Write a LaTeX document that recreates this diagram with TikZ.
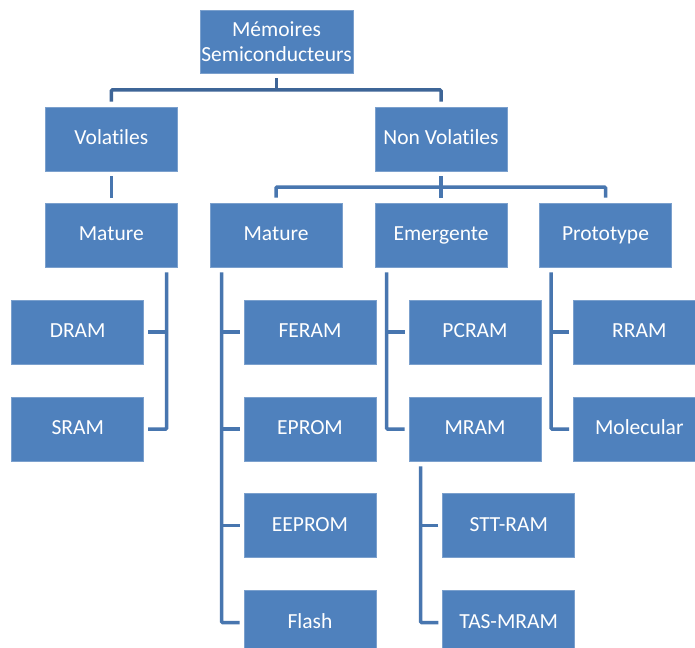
\documentclass[tikz,border=0pt]{standalone}
\usepackage{fontspec}
\setmainfont{Carlito}[Ligatures=CommonOff]
\definecolor{boxblue}{HTML}{4F81BD}
\definecolor{linkblue}{HTML}{4876AF}
\definecolor{topblue}{HTML}{3E6597}
\tikzset{
  membox/.style={rectangle, fill=boxblue, draw=boxblue!75!white, line width=0.6pt,
    minimum width=132pt, minimum height=64pt, inner sep=0pt, text=white,
    font=\fontsize{21.5}{25}\selectfont, text height=15.4pt, text depth=4pt},
  link/.style={draw=linkblue, line width=3.5pt},
  toplink/.style={draw=topblue, line width=3.5pt}
}
\begin{document}
\begin{tikzpicture}[x=1pt,y=-1pt]
    \clip (0,0) rectangle (695,647);
    \fill[white] (0,0) rectangle (695,647);
    % boxes
    \node[membox,minimum width=153pt,minimum height=63pt,align=center,text height=,text depth=] (root) at (276.5,41.5) {M\'emoires\\Semiconducteurs};
    \node[membox] (vol) at (111.3,139) {Volatiles};
    \node[membox] (nv) at (441,139) {Non Volatiles};
    \node[membox] (matv) at (111.3,235) {Mature};
    \node[membox] (matn) at (276,235) {Mature};
    \node[membox] (emer) at (441,235) {Emergente};
    \node[membox] (proto) at (605.5,235) {Prototype};
    \node[membox] (dram) at (77.7,332) {DRAM};
    \node[membox] (sram) at (77.7,429) {SRAM};
    \node[membox] (feram) at (310,332) {FERAM};
    \node[membox] (eprom) at (310,429) {EPROM};
    \node[membox] (eeprom) at (310,525.3) {EEPROM};
    \node[membox] (flash) at (310,622.7) {Flash};
    \node[membox] (pcram) at (475,332) {PCRAM};
    \node[membox] (mram) at (475,429) {MRAM};
    \node[membox] (stt) at (508.7,525.3) {STT-RAM};
    \node[membox] (tas) at (508.7,622.7) {TAS-MRAM};
    \node[membox] (rram) at (639.3,332) {RRAM};
    \node[membox] (molec) at (639.3,429) {Molecular};
    % top level
    \coordinate (rj) at (276.5,90);
    \draw[toplink] ([yshift=-5pt]root.south) -- (rj);
    \draw[toplink,rounded corners=1pt] ([yshift=5pt]vol.north) |- (rj) -| ([yshift=5pt]nv.north);
    \draw[link] ([yshift=-5pt]vol.south) -- ([yshift=5pt]matv.north);
    \coordinate (nj) at (441,187);
    \draw[link] ([yshift=-5pt]nv.south) -- ([yshift=5pt]emer.north);
    \draw[link,rounded corners=1pt] ([yshift=5pt]matn.north) |- (nj) -| ([yshift=5pt]proto.north);
    % volatiles
    \draw[link,rounded corners=1pt] ([xshift=-11pt,yshift=-5pt]matv.south east) |- ([xshift=4pt]sram.east);
    \draw[link] ([xshift=4pt]dram.east) -- ++(18,0);
    % non volatiles
    \draw[link,rounded corners=1pt] ([xshift=12pt,yshift=-5pt]matn.south west) |- ([xshift=-4pt]flash.west);
    \foreach \n in {feram,eprom,eeprom}
        \draw[link] ([xshift=-4pt]\n.west) -- ++(-18,0);
    \draw[link,rounded corners=1pt] ([xshift=12pt,yshift=-5pt]emer.south west) |- ([xshift=-4pt]mram.west);
    \draw[link] ([xshift=-4pt]pcram.west) -- ++(-18,0);
    \draw[link,rounded corners=1pt] ([xshift=12pt,yshift=-5pt]proto.south west) |- ([xshift=-4pt]molec.west);
    \draw[link] ([xshift=-4pt]rram.west) -- ++(-18,0);
    \draw[link,rounded corners=1pt] ([xshift=12pt,yshift=-5pt]mram.south west) |- ([xshift=-4pt]tas.west);
    \draw[link] ([xshift=-4pt]stt.west) -- ++(-18,0);
\end{tikzpicture}
\end{document}
